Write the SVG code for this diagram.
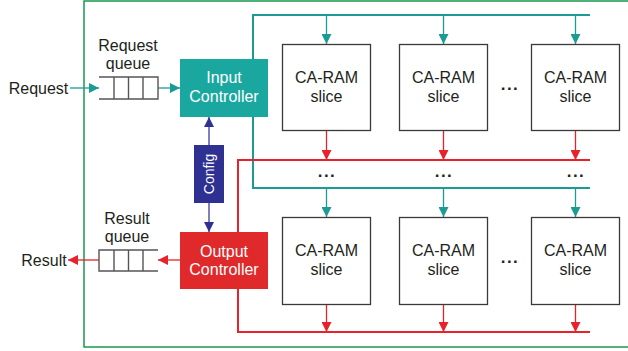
<svg xmlns="http://www.w3.org/2000/svg" width="628" height="351" viewBox="0 0 628 351">
  <defs>
    <marker id="ahTeal" viewBox="0 0 10 10" refX="10" refY="5" markerWidth="10" markerHeight="10" markerUnits="userSpaceOnUse" orient="auto">
      <path d="M0,0 L10,5 L0,10 Z" fill="#1b9b93"/>
    </marker>
    <marker id="ahRed" viewBox="0 0 10 10" refX="10" refY="5" markerWidth="10" markerHeight="10" markerUnits="userSpaceOnUse" orient="auto">
      <path d="M0,0 L10,5 L0,10 Z" fill="#e8212a"/>
    </marker>
    <marker id="ahBlue" viewBox="0 0 10 10" refX="10" refY="5" markerWidth="10" markerHeight="10" markerUnits="userSpaceOnUse" orient="auto">
      <path d="M0,0 L10,5 L0,10 Z" fill="#2e3192"/>
    </marker>
  </defs>
  <style>
    text { font-family: "Liberation Sans", Arial, sans-serif; font-size: 16px; fill: #231f20; text-anchor: middle; }
    .white { fill: #ffffff; }
    .slice { fill: #ffffff; stroke: #3a3a3a; stroke-width: 1.3; }
    .queue { fill: none; stroke: #555555; stroke-width: 1.4; }
    .bus-teal { fill: none; stroke: #1b9b93; stroke-width: 2; }
    .bus-red { fill: none; stroke: #e8212a; stroke-width: 2; }
    .arr-teal { stroke: #1b9b93; stroke-width: 1.3; fill: none; marker-end: url(#ahTeal); }
    .arr-red { stroke: #e8212a; stroke-width: 1.3; fill: none; marker-end: url(#ahRed); }
    .arr-blue { stroke: #7e80bf; stroke-width: 2; fill: none; marker-end: url(#ahBlue); }
    .dots { font-weight: bold; font-size: 17px; letter-spacing: 1.5px; }
  </style>

  <!-- enclosing frame -->
  <rect x="84" y="1" width="560" height="346" fill="none" stroke="#1a9850" stroke-width="1.5"/>

  <g id="connectors">
    <!-- input distribution bus -->
    <polyline class="bus-teal" points="253,117 253,15 590,15"/>
    <polyline class="bus-teal" points="253,117 253,188 590,188"/>
    <!-- result collection bus -->
    <polyline class="bus-red" points="238,232 238,160 590,160"/>
    <polyline class="bus-red" points="238,289 238,332 590,332"/>

    <!-- request path -->
    <line class="arr-teal" x1="70" y1="88" x2="99" y2="88"/>
    <line class="arr-teal" x1="158" y1="88" x2="180" y2="88"/>
    <!-- result path -->
    <line class="arr-red" x1="180" y1="260" x2="158" y2="260"/>
    <line class="arr-red" x1="99" y1="260" x2="68" y2="260"/>

    <!-- config -->
    <line class="arr-blue" x1="209" y1="145" x2="209" y2="117"/>
    <line class="arr-blue" x1="209" y1="203" x2="209" y2="232"/>

    <!-- bus to slices, top row -->
    <line class="arr-teal" x1="326.5" y1="15" x2="326.5" y2="44"/>
    <line class="arr-teal" x1="443.5" y1="15" x2="443.5" y2="44"/>
    <line class="arr-teal" x1="575.5" y1="15" x2="575.5" y2="44"/>
    <line class="arr-red" x1="326.5" y1="131" x2="326.5" y2="160"/>
    <line class="arr-red" x1="443.5" y1="131" x2="443.5" y2="160"/>
    <line class="arr-red" x1="575.5" y1="131" x2="575.5" y2="160"/>
    <!-- bus to slices, bottom row -->
    <line class="arr-teal" x1="326.5" y1="188" x2="326.5" y2="217"/>
    <line class="arr-teal" x1="443.5" y1="188" x2="443.5" y2="217"/>
    <line class="arr-teal" x1="575.5" y1="188" x2="575.5" y2="217"/>
    <line class="arr-red" x1="326.5" y1="304" x2="326.5" y2="332"/>
    <line class="arr-red" x1="443.5" y1="304" x2="443.5" y2="332"/>
    <line class="arr-red" x1="575.5" y1="304" x2="575.5" y2="332"/>
  </g>

  <text x="38.5" y="94">Request</text>
  <text x="44" y="266">Result</text>

  <g id="request-queue">
    <text x="128" y="51">Request</text>
    <text x="128" y="69">queue</text>
    <path class="queue" d="M99,77 H158 V99 H99 M114,77 V99 M128.5,77 V99 M143,77 V99"/>
  </g>

  <g id="result-queue">
    <text x="127" y="224">Result</text>
    <text x="127" y="242">queue</text>
    <path class="queue" d="M158,250 H99 V271 H158 M114,250 V271 M128.5,250 V271 M143,250 V271"/>
  </g>

  <g id="input-controller">
    <rect x="180" y="59" width="88" height="58" fill="#1aa7a0"/>
    <text class="white" x="224" y="83">Input</text>
    <text class="white" x="224" y="102">Controller</text>
  </g>

  <g id="output-controller">
    <rect x="180" y="232" width="88" height="57" fill="#e0292b"/>
    <text class="white" x="224" y="257">Output</text>
    <text class="white" x="224" y="275">Controller</text>
  </g>

  <g id="config">
    <rect x="194" y="145" width="30" height="58" fill="#2e3192"/>
    <text class="white" x="0" y="0" font-size="14" transform="translate(214,174) rotate(-90)" style="font-size:14px">Config</text>
  </g>

  <g id="slice-1">
    <rect class="slice" x="282.5" y="44.5" width="88" height="86"/>
    <text x="326.5" y="83">CA-RAM</text>
    <text x="326.5" y="102">slice</text>
  </g>
  <g id="slice-2">
    <rect class="slice" x="399.5" y="44.5" width="88" height="86"/>
    <text x="443.5" y="83">CA-RAM</text>
    <text x="443.5" y="102">slice</text>
  </g>
  <g id="slice-n">
    <rect class="slice" x="531.5" y="44.5" width="88" height="86"/>
    <text x="575.5" y="83">CA-RAM</text>
    <text x="575.5" y="102">slice</text>
  </g>
  <g id="slice-4">
    <rect class="slice" x="282.5" y="217.5" width="88" height="87"/>
    <text x="326.5" y="256">CA-RAM</text>
    <text x="326.5" y="275">slice</text>
  </g>
  <g id="slice-5">
    <rect class="slice" x="399.5" y="217.5" width="88" height="87"/>
    <text x="443.5" y="256">CA-RAM</text>
    <text x="443.5" y="275">slice</text>
  </g>
  <g id="slice-m">
    <rect class="slice" x="531.5" y="217.5" width="88" height="87"/>
    <text x="575.5" y="256">CA-RAM</text>
    <text x="575.5" y="275">slice</text>
  </g>

  <!-- ellipses -->
  <text class="dots" x="510" y="90">...</text>
  <text class="dots" x="510" y="263">...</text>
  <text class="dots" x="327" y="177">...</text>
  <text class="dots" x="444" y="177">...</text>
  <text class="dots" x="576" y="177">...</text>
</svg>
